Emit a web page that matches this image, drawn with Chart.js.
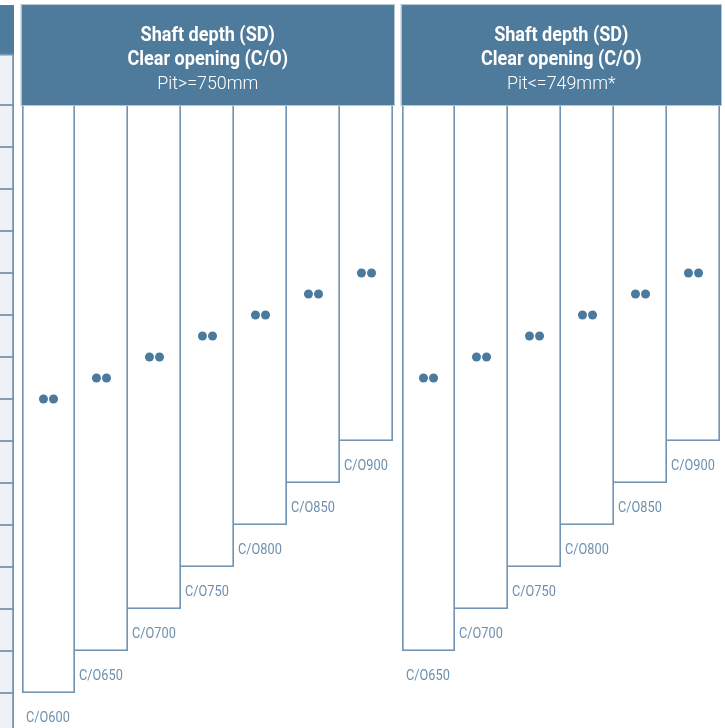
<!DOCTYPE html>
<html>
<head>
<meta charset="utf-8">
<script src="https://cdn.jsdelivr.net/npm/chart.js@4.4.0/dist/chart.umd.min.js"></script>
<style>
  html, body { margin: 0; padding: 0; background: #fff; }
  #wrap { width: 725px; height: 728px; }
</style>
</head>
<body>
<div id="wrap"><canvas id="myChart" width="725" height="728"></canvas></div>
<script>
// header text
var headerLines = ['Shaft depth (SD)', 'Clear opening (C/O)'];
var pitLabels = ['Pit>=750mm', 'Pit<=749mm*'];

// panel 1: pit >= 750mm
var openings1 = ['C/O600', 'C/O650', 'C/O700', 'C/O750', 'C/O800', 'C/O850', 'C/O900'];
var depth1 = [14, 13, 12, 11, 10, 9, 8];      // shaft depth, in table rows
var marks1 = [7, 6.5, 6, 5.5, 5, 4.5, 4];     // the two dots, in table rows

// panel 2: pit <= 749mm
var openings2 = ['C/O650', 'C/O700', 'C/O750', 'C/O800', 'C/O850', 'C/O900'];
var depth2 = [13, 12, 11, 10, 9, 8];
var marks2 = [6.5, 6, 5.5, 5, 4.5, 4];

// row lines of the table on the left edge
var rowLines = [-1.2, 0, 1, 2, 3, 4, 5, 6, 7, 8, 9, 10, 11, 12, 13, 14, 15];

var HEADER = '#4e7b9c';
var LINE = '#7495b2';
var DOT = '#4a7a9d';
var LABEL = '#6d8fae';
var LW = 1.8;

var panelStart = [0, 7.17];   // column units
var panels = [
    { openings: openings1, depth: depth1, marks: marks1 },
    { openings: openings2, depth: depth2, marks: marks2 }
];

var bars = [], dotsL = [], dotsR = [];
panels.forEach(function (p, pi) {
    p.openings.forEach(function (name, i) {
        var cx = panelStart[pi] + i + 0.5;
        bars.push({ x: cx, y: [0, p.depth[i]], label: name, first: i === 0 });
        dotsL.push({ x: cx - 0.095, y: p.marks[i] });
        dotsR.push({ x: cx + 0.095, y: p.marks[i] });
    });
});

function condensed(ctx, text, x, y, font, sx) {
    ctx.save();
    ctx.translate(x, y);
    ctx.scale(sx, 1);
    ctx.font = font;
    ctx.fillText(text, 0, 0);
    ctx.restore();
}

var tablePlugin = {
    id: 'table',
    beforeDatasetsDraw: function (chart) {
        var ctx = chart.ctx, xs = chart.scales.x, ys = chart.scales.y;
        var x0 = xs.getPixelForValue(xs.min), x1 = xs.getPixelForValue(-0.151);
        var top = ys.getPixelForValue(-2.38), hb = ys.getPixelForValue(-1.2);
        ctx.save();
        ctx.fillStyle = '#eef1f6';
        ctx.fillRect(x0, hb, x1 - x0, chart.height - hb);
        ctx.fillStyle = HEADER;
        ctx.fillRect(x0, top, x1 - x0, hb - top);
        ctx.strokeStyle = LINE;
        ctx.lineWidth = LW;
        rowLines.forEach(function (r) {
            var y = ys.getPixelForValue(r);
            ctx.beginPath(); ctx.moveTo(x0, y); ctx.lineTo(x1, y); ctx.stroke();
        });
        ctx.beginPath(); ctx.moveTo(x1 - 0.9, hb); ctx.lineTo(x1 - 0.9, chart.height); ctx.stroke();
        ctx.restore();
    },
    afterDatasetsDraw: function (chart) {
        var ctx = chart.ctx, xs = chart.scales.x, ys = chart.scales.y;
        var top = ys.getPixelForValue(-2.38), bottom = ys.getPixelForValue(0);
        ctx.save();
        panels.forEach(function (p, pi) {
            var l = xs.getPixelForValue(panelStart[pi]) - 0.5;
            var r = xs.getPixelForValue(panelStart[pi] + p.openings.length) + 1;
            ctx.fillStyle = HEADER;
            ctx.fillRect(l, top, r - l, bottom - top);
            ctx.strokeStyle = '#b4c5d3';
            ctx.lineWidth = 1;
            ctx.strokeRect(l - 0.5, top - 0.5, r - l + 1, bottom - top + 1);
            var cx = (l + r) / 2;
            ctx.fillStyle = '#ffffff';
            ctx.textAlign = 'center';
            ctx.textBaseline = 'alphabetic';
            condensed(ctx, headerLines[0], cx, top + 35.5, 'bold 21px Roboto', 0.86);
            condensed(ctx, headerLines[1], cx, top + 59.5, 'bold 21px Roboto', 0.86);
            condensed(ctx, pitLabels[pi], cx, top + 83.5, '300 18px Roboto', 0.99);
        });
        // opening labels under each column
        var meta = chart.getDatasetMeta(0);
        ctx.fillStyle = LABEL;
        ctx.textAlign = 'left';
        meta.data.forEach(function (el, i) {
            var b = Math.max(el.y, el.base);
            condensed(ctx, bars[i].label, el.x - el.width / 2 + 4, b + 29, '15px Roboto', 0.85);
        });
        ctx.restore();
    }
};

var ctx = document.getElementById('myChart').getContext('2d');
var myChart = new Chart(ctx, {
    type: 'bar',
    data: {
        datasets: [{
            type: 'bar',
            order: 3,
            data: bars,
            backgroundColor: '#ffffff',
            borderColor: LINE,
            borderWidth: function (c) {
                var d = c.raw;
                return { top: 0, right: LW, bottom: LW, left: d && d.first ? LW : 0 };
            },
            borderSkipped: false,
            inflateAmount: 0,
            barThickness: 53
        }, {
            type: 'scatter',
            order: 1,
            data: dotsL,
            pointRadius: 4.5,
            pointBackgroundColor: DOT,
            pointBorderWidth: 0
        }, {
            type: 'scatter',
            order: 1,
            data: dotsR,
            pointRadius: 4.5,
            pointBackgroundColor: DOT,
            pointBorderWidth: 0
        }]
    },
    options: {
        responsive: false,
        animation: false,
        layout: { padding: 0, autoPadding: false },
        plugins: {
            legend: { display: false },
            tooltip: { enabled: false }
        },
        scales: {
            x: { type: 'linear', offset: false, min: -22 / 53, max: 703 / 53, display: false },
            y: { type: 'linear', min: -2.5, max: 623 / 42, reverse: true, display: false }
        }
    },
    plugins: [tablePlugin]
});
</script>
</body>
</html>
